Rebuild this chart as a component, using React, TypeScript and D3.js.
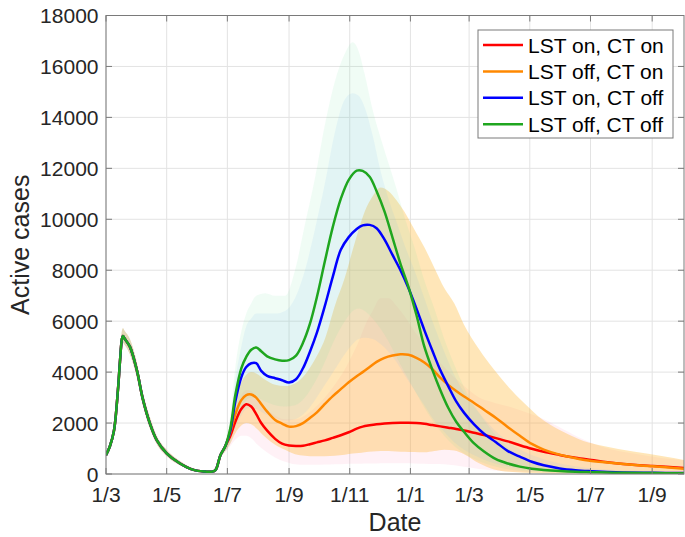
import React from 'react';
import * as d3 from 'd3';

const WIDTH = 685;
const HEIGHT = 537;
const LEFT = 106;
const RIGHT = 684;
const TOP = 15.5;
const BOTTOM = 474;

// day offsets count from 1 March 2020
const START = new Date(2020, 2, 1);
const LAST_DAY = 581;

// first wave, identical in all four scenarios
const firstWaveDays = [0, 4, 8, 12, 14, 16, 17, 19, 24, 31, 37, 44, 51, 61, 74, 88, 100, 106, 110, 115];
const firstWave = [740, 1100, 1700, 3300, 4400, 5300, 5420, 5300, 5000, 4080, 2950, 2000, 1330, 810, 420, 160, 95, 90, 150, 740];
const firstWaveLow = [700, 1020, 1560, 3050, 4100, 4980, 5150, 5050, 4700, 3780, 2700, 1800, 1180, 700, 350, 120, 70, 70, 120, 650];
const firstWaveHigh = [790, 1200, 1850, 3550, 4700, 5620, 5720, 5600, 5300, 4380, 3200, 2250, 1500, 950, 520, 220, 130, 120, 190, 830];

// second wave means
const secondWaveDays = [120, 125, 130, 136, 141, 146, 151, 156, 162, 170, 177, 184, 191, 198, 205, 212, 220, 228, 236, 244, 252, 258, 265, 272, 280, 288, 296, 304, 312, 320, 328, 336, 344, 352, 360, 370, 380, 392, 404, 416, 428, 440, 456, 472, 488, 504, 520, 550, 581];
const lstOnCtOn = [1100, 1500, 2050, 2550, 2740, 2650, 2350, 2000, 1700, 1380, 1190, 1120, 1100, 1110, 1170, 1240, 1320, 1420, 1520, 1640, 1780, 1860, 1910, 1950, 1980, 2000, 2010, 2010, 2000, 1970, 1920, 1870, 1820, 1770, 1710, 1620, 1530, 1410, 1280, 1130, 990, 870, 750, 640, 550, 460, 390, 310, 240];
const lstOffCtOn = [1100, 1650, 2350, 2900, 3100, 3120, 3000, 2750, 2450, 2120, 1980, 1860, 1880, 2000, 2200, 2420, 2750, 3060, 3330, 3600, 3840, 4000, 4200, 4400, 4560, 4650, 4700, 4680, 4560, 4380, 4120, 3780, 3500, 3260, 3040, 2790, 2520, 2200, 1840, 1500, 1180, 960, 760, 620, 510, 450, 390, 300, 210];
const lstOnCtOff = [1100, 1700, 2850, 3800, 4200, 4350, 4350, 4050, 3850, 3760, 3680, 3590, 3720, 4150, 4800, 5550, 6600, 7750, 8800, 9300, 9620, 9760, 9780, 9650, 9200, 8600, 8000, 7300, 6500, 5650, 4850, 4080, 3450, 2850, 2400, 1950, 1580, 1250, 900, 680, 480, 340, 220, 150, 110, 80, 60, 45, 35];
const lstOffCtOff = [1100, 1800, 3100, 4150, 4600, 4880, 4970, 4820, 4620, 4500, 4450, 4470, 4650, 5150, 5900, 6950, 8350, 9700, 10800, 11550, 11910, 11900, 11670, 11100, 10300, 9280, 8250, 7350, 6250, 5000, 4100, 3300, 2600, 2050, 1650, 1200, 880, 580, 410, 290, 210, 160, 115, 85, 70, 55, 45, 35, 30];

// second wave uncertainty bands
const bandDays = [115, 120, 125, 130, 136, 141, 146, 151, 160, 170, 180, 190, 200, 210, 220, 230, 240, 248, 254, 260, 268, 276, 284, 292, 300, 310, 320, 330, 340, 350, 360, 375, 390, 405, 420, 440, 460, 480, 500, 530, 560, 581];
const lstOnCtOnLow = [650, 850, 1100, 1350, 1500, 1500, 1400, 1200, 900, 650, 480, 380, 360, 360, 370, 380, 390, 400, 400, 410, 410, 420, 420, 420, 420, 410, 400, 390, 380, 340, 280, 200, 140, 100, 80, 60, 50, 40, 30, 25, 20, 20];
const lstOnCtOnHigh = [780, 1200, 1800, 2500, 3100, 3300, 3250, 3000, 2600, 2300, 2150, 2150, 2300, 2600, 3000, 3500, 4100, 4700, 5200, 5800, 6400, 6900, 6900, 6600, 6200, 5600, 5100, 4600, 4200, 3800, 3450, 3000, 2800, 2650, 2450, 2150, 1750, 1350, 1050, 800, 620, 540];
const lstOffCtOnLow = [650, 900, 1200, 1600, 1900, 2000, 1950, 1800, 1450, 1150, 950, 780, 720, 700, 700, 720, 760, 800, 820, 850, 880, 900, 900, 880, 870, 860, 850, 900, 950, 920, 780, 420, 180, 90, 50, 30, 20, 15, 10, 10, 10, 10];
const lstOffCtOnHigh = [780, 1250, 2000, 2900, 3600, 3900, 4000, 3950, 3700, 3500, 3450, 3550, 3900, 4500, 5300, 6600, 7700, 8800, 9600, 10300, 10900, 11250, 11100, 10750, 10300, 9600, 8900, 8100, 7300, 6700, 5850, 4900, 4100, 3400, 2800, 2100, 1650, 1300, 1100, 880, 700, 550];
const lstOnCtOffLow = [650, 900, 1200, 1800, 2300, 2550, 2600, 2550, 2350, 2200, 2100, 2150, 2400, 2900, 3500, 4100, 4700, 5100, 5300, 5350, 5300, 5100, 4800, 4400, 3900, 3300, 2700, 2100, 1650, 1250, 950, 650, 420, 280, 180, 110, 70, 50, 35, 25, 20, 15];
const lstOnCtOffHigh = [780, 1250, 2100, 3700, 5000, 5800, 6100, 6300, 6300, 6300, 6400, 6900, 8000, 9600, 11400, 13400, 14700, 14950, 14850, 14400, 13300, 11900, 10800, 9900, 9000, 8000, 6900, 5800, 4800, 3900, 3200, 2400, 1750, 1250, 880, 580, 380, 260, 190, 130, 100, 80];
const lstOffCtOffLow = [650, 900, 1300, 2000, 2600, 2900, 3000, 3000, 2850, 2700, 2650, 2700, 3000, 3600, 4400, 5300, 6000, 6400, 6500, 6400, 6100, 5700, 5200, 4600, 4000, 3300, 2600, 2000, 1500, 1100, 800, 500, 300, 180, 110, 70, 40, 30, 20, 15, 10, 10];
const lstOffCtOffHigh = [800, 1300, 2300, 4200, 5600, 6300, 6700, 7000, 7100, 7000, 7000, 8000, 9800, 11600, 13700, 15400, 16500, 16950, 16600, 15700, 14300, 13200, 12200, 11200, 10100, 8900, 7600, 6500, 5300, 4300, 3400, 2400, 1600, 1000, 650, 400, 260, 180, 130, 100, 80, 70];

const seriesNames = ['LST on, CT on', 'LST off, CT on', 'LST on, CT off', 'LST off, CT off'];
const yTicks = [0, 2000, 4000, 6000, 8000, 10000, 12000, 14000, 16000, 18000];

const lineColors = ['#ff0000', '#ff8800', '#0000ff', '#1fa61f'];
const bandColors = ['#ff7aa8', '#ffb833', '#73b9f5', '#69e19b'];
const bandOpacity = [0.1, 0.35, 0.11, 0.1];

const means = [lstOnCtOn, lstOffCtOn, lstOnCtOff, lstOffCtOff];
const lows = [lstOnCtOnLow, lstOffCtOnLow, lstOnCtOffLow, lstOffCtOffLow];
const highs = [lstOnCtOnHigh, lstOffCtOnHigh, lstOnCtOffHigh, lstOffCtOffHigh];

const toDate = (day: number) => new Date(2020, 2, 1 + day);

type Pt = { date: Date; v: number };
type BandPt = { date: Date; lo: number; hi: number };

const lineData: Pt[][] = means.map(vals => [
  ...firstWaveDays.map((d, i) => ({ date: toDate(d), v: firstWave[i] })),
  ...secondWaveDays.map((d, i) => ({ date: toDate(d), v: vals[i] })),
]);

const bandData: BandPt[][] = lows.map((lo, k) => [
  ...firstWaveDays
    .map((d, i) => ({ d, lo: firstWaveLow[i], hi: firstWaveHigh[i] }))
    .filter(p => p.d < bandDays[0])
    .map(p => ({ date: toDate(p.d), lo: p.lo, hi: p.hi })),
  ...bandDays.map((d, i) => ({ date: toDate(d), lo: lo[i], hi: highs[k][i] })),
]);

const FONT = '"Liberation Sans", Arial, Helvetica, sans-serif';
const TEXT = '#262626';

const App = () => {
  const xScale = d3.scaleTime()
    .domain([START, toDate(LAST_DAY)])
    .range([LEFT, RIGHT]);
  const yScale = d3.scaleLinear()
    .domain([0, 18000])
    .range([BOTTOM, TOP]);

  const xTicks = xScale.ticks(d3.timeMonth.every(2) as d3.TimeInterval);
  const fmt = d3.timeFormat('%-d/%-m');

  const line = d3.line<Pt>()
    .x(p => xScale(p.date))
    .y(p => yScale(Math.max(0, p.v)))
    .curve(d3.curveCatmullRom.alpha(0.5));
  const area = d3.area<BandPt>()
    .x(p => xScale(p.date))
    .y0(p => yScale(p.lo))
    .y1(p => yScale(p.hi))
    .curve(d3.curveMonotoneX);

  const TICK = 6;

  return (
    <svg
      width={WIDTH}
      height={HEIGHT}
      style={{ position: 'absolute', left: 0, top: 0, background: '#fff' }}
      fontFamily={FONT}
    >
      <rect x={0} y={0} width={WIDTH} height={HEIGHT} fill="#fff" />
      <defs>
        <clipPath id="plot">
          <rect x={LEFT} y={TOP} width={RIGHT - LEFT} height={BOTTOM - TOP} />
        </clipPath>
      </defs>
      {/* grid */}
      <g stroke="#e3e3e3" strokeWidth={1}>
        {xTicks.map(t => (
          <line key={+t} x1={xScale(t)} x2={xScale(t)} y1={TOP} y2={BOTTOM} />
        ))}
        {yTicks.map(t => (
          <line key={t} x1={LEFT} x2={RIGHT} y1={yScale(t)} y2={yScale(t)} />
        ))}
      </g>
      <g clipPath="url(#plot)">
        {bandData.map((b, i) => (
          <path key={i} d={area(b) || ''} fill={bandColors[i]} fillOpacity={bandOpacity[i]} />
        ))}
        {lineData.map((l, i) => (
          <path key={i} d={line(l) || ''} fill="none" stroke={lineColors[i]} strokeWidth={2.5} strokeLinejoin="round" />
        ))}
      </g>
      {/* axes box and ticks */}
      <g stroke="#7a7a7a" strokeWidth={1} fill="none">
        <rect x={LEFT} y={TOP} width={RIGHT - LEFT} height={BOTTOM - TOP} />
        {xTicks.map(t => (
          <g key={+t}>
            <line x1={xScale(t)} x2={xScale(t)} y1={BOTTOM} y2={BOTTOM - TICK} />
            <line x1={xScale(t)} x2={xScale(t)} y1={TOP} y2={TOP + TICK} />
          </g>
        ))}
        {yTicks.map(t => (
          <g key={t}>
            <line x1={LEFT} x2={LEFT + TICK} y1={yScale(t)} y2={yScale(t)} />
            <line x1={RIGHT} x2={RIGHT - TICK} y1={yScale(t)} y2={yScale(t)} />
          </g>
        ))}
      </g>
      <g fill={TEXT} fontSize={21}>
        {xTicks.map(t => (
          <text key={+t} x={xScale(t)} y={502} textAnchor="middle">{fmt(t)}</text>
        ))}
        {yTicks.map(t => (
          <text key={t} x={98.5} y={yScale(t)} dy="0.36em" textAnchor="end">{t}</text>
        ))}
      </g>
      <text x={(LEFT + RIGHT) / 2} y={531} textAnchor="middle" fontSize={25} fill={TEXT}>Date</text>
      <text transform={`translate(29,${(TOP + BOTTOM) / 2}) rotate(-90)`} textAnchor="middle" fontSize={25} fill={TEXT}>Active cases</text>
      {/* legend */}
      <g>
        <rect x={478} y={30} width={195} height={108} fill="#fff" stroke="#7a7a7a" strokeWidth={1} />
        {seriesNames.map((name, i) => {
          const y = 45 + i * 26.4;
          return (
            <g key={name}>
              <line x1={483} x2={523} y1={y} y2={y} stroke={lineColors[i]} strokeWidth={2.5} />
              <text x={528} y={y} dy="0.36em" fontSize={21} fill="#000">{name}</text>
            </g>
          );
        })}
      </g>
    </svg>
  );
};

export default App;
